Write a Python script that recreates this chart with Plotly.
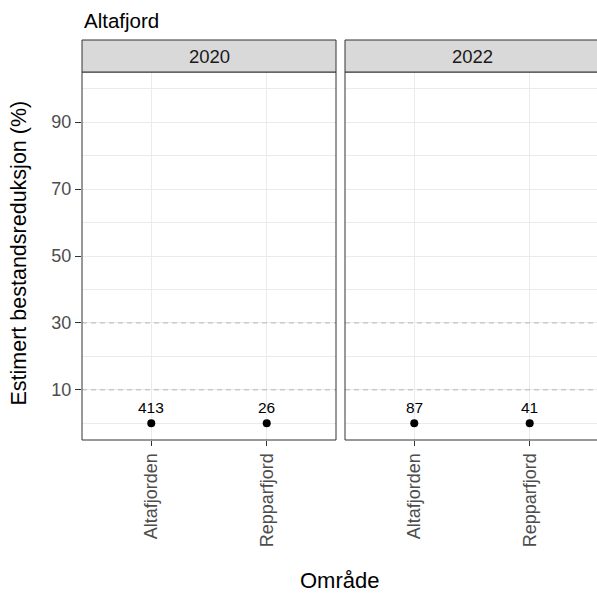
import plotly.graph_objects as go

# ---- data ----
years = ["2020", "2022"]
areas = ["Altafjorden", "Repparfjord"]
reduction_2020 = [0, 0]
reduction_2022 = [0, 0]
n_2020 = [413, 26]
n_2022 = [87, 41]
y_breaks = [10, 30, 50, 70, 90]
y_minor_breaks = [0, 20, 40, 60, 80, 100]
ref_lines = [10, 30]
plot_title = "Altafjord"
x_title = "Område"
y_title = "Estimert bestandsreduksjon (%)"

FONT = "Liberation Sans, Arial, sans-serif"
W, H = 597, 593
ML, MR, MT = 82, 0, 72
PW = W - ML - MR          # 515
PH = 368
MB = H - MT - PH
GAP = 9
P1 = 254

fig = go.Figure()

series = [(reduction_2020, n_2020), (reduction_2022, n_2022)]
for i, (vals, ns) in enumerate(series):
    xa = "x" if i == 0 else "x2"
    ya = "y" if i == 0 else "y2"
    fig.add_trace(go.Scatter(
        x=areas, y=vals, mode="markers", xaxis=xa, yaxis=ya,
        marker=dict(color="black", size=8), showlegend=False, hoverinfo="skip"))
    for a, v, n in zip(areas, vals, ns):
        fig.add_annotation(x=a, y=v, xref=xa, yref=ya, text=str(n), showarrow=False,
                           yshift=16, yanchor="middle", xanchor="center",
                           font=dict(family=FONT, size=15.5, color="black"))

grid = "#EBEBEB"
common_x = dict(type="category", showgrid=True, gridcolor=grid, gridwidth=1,
                zeroline=False, showline=False, ticks="outside", ticklen=5,
                tickcolor="#333333", tickwidth=1, tickangle=-90,
                tickfont=dict(family=FONT, size=18, color="#4D4D4D"))
common_y = dict(range=[-5, 105], showgrid=True, gridcolor=grid, gridwidth=1,
                zeroline=False, showline=False, tickmode="array", tickvals=y_breaks,
                minor=dict(tickmode="array", tickvals=y_minor_breaks, showgrid=True,
                           gridcolor=grid, gridwidth=0.7, ticks=""))

fig.update_layout(
    width=W, height=H, margin=dict(l=ML, r=MR, t=MT, b=MB, autoexpand=False),
    plot_bgcolor="white", paper_bgcolor="white",
    xaxis=dict(domain=[0, P1 / PW], range=[-0.6, 1.6], anchor="y", **common_x),
    xaxis2=dict(domain=[(P1 + GAP) / PW, 1], range=[-0.6, 1.583], anchor="y2", **common_x),
    yaxis=dict(anchor="x", ticks="outside", ticklen=6, tickcolor="#333333", tickwidth=1,
               tickfont=dict(family=FONT, size=18, color="#4D4D4D"), **common_y),
    yaxis2=dict(anchor="x2", showticklabels=False, ticks="", **common_y),
)

strip_h = 32 / PH
for i, (xa, ya) in enumerate([("x", "y"), ("x2", "y2")]):
    x1 = 1 if i == 0 else 1.05
    for r in ref_lines:
        fig.add_shape(type="line", xref=f"{xa} domain", yref=ya, x0=0, x1=1, y0=r, y1=r,
                      line=dict(color="#B5B5B5", width=1, dash="5px,4px"), layer="above")
    fig.add_shape(type="rect", xref=f"{xa} domain", yref=f"{ya} domain",
                  x0=0, x1=x1, y0=0, y1=1, line=dict(color="#333333", width=1),
                  fillcolor="rgba(0,0,0,0)", layer="above")
    fig.add_shape(type="rect", xref=f"{xa} domain", yref=f"{ya} domain",
                  x0=0, x1=x1, y0=1, y1=1 + strip_h, line=dict(color="#333333", width=1),
                  fillcolor="#D9D9D9", layer="above")
    cx = 0.5 if i == 0 else (P1 / 2) / (PW - P1 - GAP)
    fig.add_annotation(xref=f"{xa} domain", yref=f"{ya} domain", x=cx, y=1 + strip_h / 2,
                       text=years[i], showarrow=False, xanchor="center", yanchor="middle",
                       font=dict(family=FONT, size=18.5, color="#1A1A1A"))

# titles (reference pixel positions)
fig.add_annotation(xref="paper", yref="paper", x=0, y=(MT + PH - 20) / PH,
                   text=plot_title, showarrow=False, xanchor="left", yanchor="middle",
                   font=dict(family=FONT, size=20.5, color="black"))
fig.add_annotation(xref="paper", yref="paper", x=(339.5 - ML) / PW,
                   y=(MT + PH - 580) / PH,
                   text=x_title, showarrow=False, xanchor="center", yanchor="middle",
                   font=dict(family=FONT, size=22, color="black"))
fig.add_annotation(xref="paper", yref="paper", x=(18.5 - ML) / PW, y=(MT + PH - 253) / PH,
                   text=y_title, showarrow=False, xanchor="center", yanchor="middle",
                   textangle=-90, font=dict(family=FONT, size=21.5, color="black"))

fig.write_html("out.html", config={"displayModeBar": False},
               post_script="document.body.style.margin='0';document.body.style.overflow='hidden';")
